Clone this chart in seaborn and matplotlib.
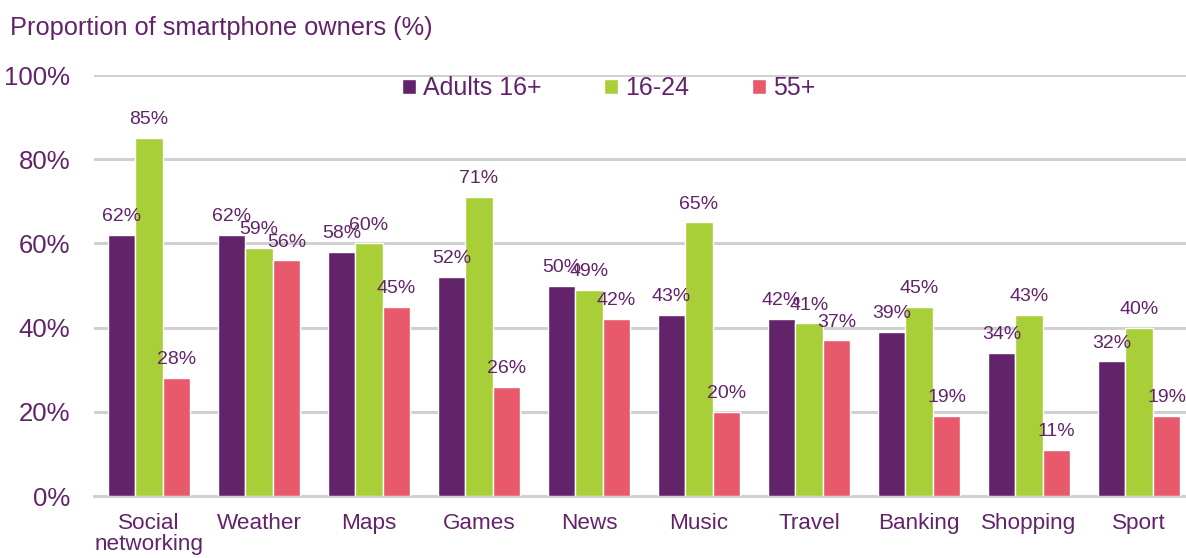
import numpy as np
import pandas as pd
import matplotlib.pyplot as plt
import seaborn as sns

# values (%)
categories = ["Social\nnetworking", "Weather", "Maps", "Games", "News",
              "Music", "Travel", "Banking", "Shopping", "Sport"]
adults_16 = [62, 62, 58, 52, 50, 43, 42, 39, 34, 32]
age_16_24 = [85, 59, 60, 71, 49, 65, 41, 45, 43, 40]
age_55 = [28, 56, 45, 26, 42, 20, 37, 19, 11, 19]
series_names = ["Adults 16+", "16-24", "55+"]
yticks = [0, 20, 40, 60, 80, 100]

PURPLE = "#62236A"
GREEN = "#A8CE38"
PINK = "#E8596B"
GRID = "#D0D0D0"

sns.set_style("white")
plt.rcParams['font.family'] = ['Liberation Sans', 'DejaVu Sans']

df = pd.DataFrame({
    "category": categories * 3,
    "group": np.repeat(series_names, len(categories)),
    "value": adults_16 + age_16_24 + age_55,
})

fig = plt.figure(figsize=(11.86, 5.58), dpi=100)
ax = fig.add_axes([94 / 1186, 62 / 558, 1100 / 1186, 421 / 558])

sns.barplot(data=df, x="category", y="value", hue="group",
            hue_order=series_names, palette=[PURPLE, GREEN, PINK],
            width=0.75, saturation=1, errorbar=None, ax=ax, zorder=3)

for cont in ax.containers:
    ax.bar_label(cont, labels=[f"{v:.0f}%" for v in cont.datavalues],
                 padding=7, fontsize=14, color=PURPLE)

ax.set_ylim(0, 100)
ax.set_xlim(-0.5, len(categories) - 0.5)
ax.set_yticks(yticks)
ax.set_yticklabels([f"{t}%" for t in yticks], fontsize=18.5, color=PURPLE)
ax.tick_params(axis="y", length=0, pad=17)
ax.yaxis.grid(True, color=GRID, linewidth=2.2, zorder=0)
ax.set_axisbelow(True)

# category labels, tick marks at boundaries between groups
ax.set_xticks(range(len(categories)))
ax.set_xticklabels(categories, fontsize=16.2, color=PURPLE, linespacing=1.0)
ax.tick_params(axis="x", length=0, pad=12)
ax.set_xticks(np.arange(-0.5, len(categories), 1), minor=True)
ax.tick_params(axis="x", which="minor", length=8, width=2, color=GRID)

ax.set_xlabel("")
ax.set_ylabel("")
for side in ["top", "right", "left"]:
    ax.spines[side].set_visible(False)
ax.spines["bottom"].set_color(GRID)
ax.spines["bottom"].set_linewidth(2.2)

ax.legend(loc="center", bbox_to_anchor=(0.468, 0.969), ncol=3, frameon=False,
          fontsize=18, labelcolor=PURPLE, handlelength=0.55, handleheight=0.55,
          handletextpad=0.3, columnspacing=2.5)

fig.text(10 / 1186, 1 - 28 / 558, "Proportion of smartphone owners (%)",
         fontsize=18.3, color=PURPLE, va="center", ha="left")

fig.savefig("out.png", dpi=100)
plt.close(fig)
